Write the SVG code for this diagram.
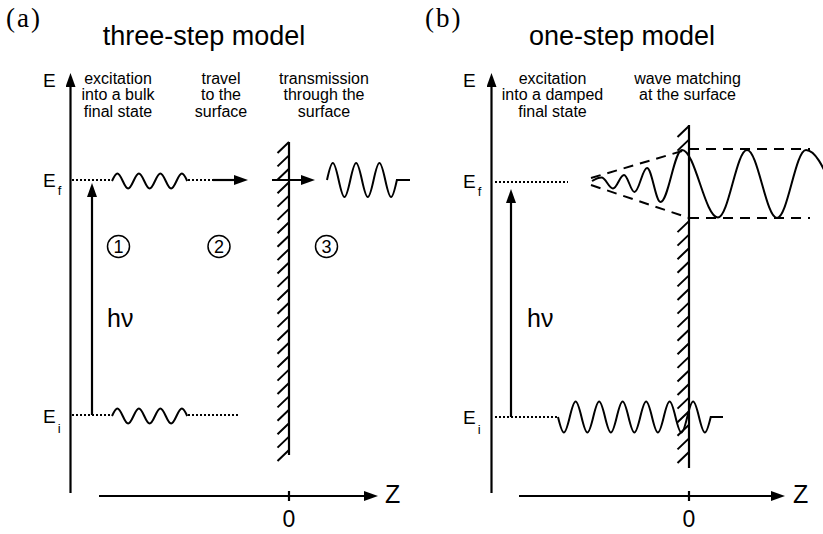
<svg xmlns="http://www.w3.org/2000/svg" width="823" height="534" viewBox="0 0 823 534">
<defs>
<style>
.ax{stroke:#000;stroke-width:2.2;fill:none}
.wave{stroke:#000;stroke-width:2;fill:none}
.dot{stroke:#000;stroke-width:2;stroke-dasharray:2 2;fill:none}
.dash{stroke:#000;stroke-width:2;stroke-dasharray:10 7;fill:none}
.hatch{stroke:#000;stroke-width:2;fill:none}
.circ{stroke:#000;stroke-width:1.5;fill:none}
text{font-family:"Liberation Sans",Arial,sans-serif;fill:#000}
.panel{font-family:"Liberation Serif","Times New Roman",serif;font-size:27px;letter-spacing:2px}
.title{font-size:27px;text-anchor:middle}
.lbl{font-size:16px;text-anchor:middle}
.E{font-size:19px}
.sub{font-size:13px}
.hv{font-size:25px}
.num{font-size:18px;text-anchor:middle}
.zero{font-size:23px;text-anchor:middle}
.Z{font-size:25px}
</style>
<marker id="ah" markerUnits="userSpaceOnUse" markerWidth="14" markerHeight="10" viewBox="0 0 14 10" refX="6" refY="5" orient="auto">
<path d="M0,0 L14,5 L0,10 z" fill="#000"/>
</marker>
<path id="smallwave" d="M112,181 c4.56,-10 6.19,-10 10.75,0 c4.56,10 6.19,10 10.75,0 c4.56,-10 6.19,-10 10.75,0 c4.56,10 6.19,10 10.75,0 c4.56,-10 6.19,-10 10.75,0 c4.56,10 6.19,10 10.75,0 c4.56,-10 6.19,-10 10.75,0"/>
</defs>
<rect width="823" height="534" fill="#fff"/>

<!-- Panel (a) -->
<g id="panel-a-labels">
<text class="panel" x="6" y="27">(a)</text>
<text class="title" x="204" y="45">three-step model</text>
<text class="lbl" x="118" y="84">excitation</text>
<text class="lbl" x="118" y="100.3">into a bulk</text>
<text class="lbl" x="118" y="116.6">final state</text>
<text class="lbl" x="221" y="84">travel</text>
<text class="lbl" x="221" y="100.3">to the</text>
<text class="lbl" x="221" y="116.6">surface</text>
<text class="lbl" x="324" y="84">transmission</text>
<text class="lbl" x="324" y="100.3">through the</text>
<text class="lbl" x="324" y="116.6">surface</text>
<text class="E" x="43" y="87">E</text>
<text class="E" x="43" y="187">E<tspan class="sub" dx="2" dy="8">f</tspan></text>
<text class="E" x="43" y="423">E<tspan class="sub" dx="2" dy="10">i</tspan></text>
<text class="hv" x="107" y="327">hν</text>
</g>

<g id="a-axes">
<line class="ax" x1="70.5" y1="493" x2="70.5" y2="81" marker-end="url(#ah)"/>
<line class="ax" x1="99" y1="496" x2="370" y2="496" marker-end="url(#ah)"/>
<line class="ax" x1="289" y1="491" x2="289" y2="501"/>
<text class="zero" x="289" y="527">0</text>
<text class="Z" x="385" y="503">Z</text>
</g>

<g id="a-surface">
<line class="ax" x1="289" y1="142" x2="289" y2="455"/>
<path class="hatch" d="M277.5,153 L289,142 M277.5,166.4 L289,155.4 M277.5,179.8 L289,168.8 M277.5,193.2 L289,182.2 M277.5,206.6 L289,195.6 M277.5,219.9 L289,208.9 M277.5,233.3 L289,222.3 M277.5,246.7 L289,235.7 M277.5,260.1 L289,249.1 M277.5,273.5 L289,262.5 M277.5,286.9 L289,275.9 M277.5,300.3 L289,289.3 M277.5,313.7 L289,302.7 M277.5,327.1 L289,316.1 M277.5,340.5 L289,329.5 M277.5,353.8 L289,342.8 M277.5,367.2 L289,356.2 M277.5,380.6 L289,369.6 M277.5,394 L289,383 M277.5,407.4 L289,396.4 M277.5,420.8 L289,409.8 M277.5,434.2 L289,423.2 M277.5,447.6 L289,436.6 M277.5,461 L289,450"/>
</g>

<g id="a-excitation">
<line class="ax" x1="92" y1="415" x2="92" y2="191" marker-end="url(#ah)"/>
</g>

<g id="a-final-state">
<path class="dot" d="M72,180 H112 M188,180 H213"/>
<use href="#smallwave" class="wave"/>
<line class="ax" x1="213" y1="180" x2="240" y2="180" marker-end="url(#ah)"/>
<line class="ax" x1="272" y1="180" x2="307" y2="180" marker-end="url(#ah)"/>
<path class="wave" d="M327,180 c4.94,-22.67 6.71,-22.67 11.65,0 c4.94,22.67 6.71,22.67 11.65,0 c4.94,-22.67 6.71,-22.67 11.65,0 c4.94,22.67 6.71,22.67 11.65,0 c4.94,-22.67 6.71,-22.67 11.65,0 c4.94,22.67 6.71,22.67 11.65,0 L410,180"/>
</g>

<g id="a-initial-state">
<path class="dot" d="M72,415 H112 M188,415 H240"/>
<use href="#smallwave" class="wave" transform="translate(0,235)"/>
</g>

<g id="a-steps">
<g id="step1"><circle class="circ" cx="118.5" cy="246.5" r="11"/><text class="num" x="118.5" y="253">1</text></g>
<g id="step2"><circle class="circ" cx="219" cy="246.5" r="11"/><text class="num" x="219" y="253">2</text></g>
<g id="step3"><circle class="circ" cx="326.5" cy="246.5" r="11"/><text class="num" x="326.5" y="253">3</text></g>
</g>

<!-- Panel (b) -->
<g id="panel-b-labels">
<text class="panel" x="425" y="27">(b)</text>
<text class="title" x="622" y="45">one-step model</text>
<text class="lbl" x="552.5" y="84">excitation</text>
<text class="lbl" x="552.5" y="100.3">into a damped</text>
<text class="lbl" x="552.5" y="116.6">final state</text>
<text class="lbl" x="687.5" y="84">wave matching</text>
<text class="lbl" x="687.5" y="100.3">at the surface</text>
<text class="E" x="463" y="87">E</text>
<text class="E" x="463" y="188">E<tspan class="sub" dx="2" dy="8">f</tspan></text>
<text class="E" x="463" y="424">E<tspan class="sub" dx="2" dy="10">i</tspan></text>
<text class="hv" x="527" y="327">hν</text>
</g>

<g id="b-axes">
<line class="ax" x1="491.5" y1="493" x2="491.5" y2="81" marker-end="url(#ah)"/>
<line class="ax" x1="519" y1="496" x2="777" y2="496" marker-end="url(#ah)"/>
<line class="ax" x1="689" y1="491" x2="689" y2="501"/>
<text class="zero" x="689" y="527">0</text>
<text class="Z" x="793" y="503">Z</text>
</g>

<g id="b-surface">
<line class="ax" x1="689" y1="125" x2="689" y2="468"/>
<path class="hatch" d="M677.5,137 L689,126 M677.5,150.6 L689,139.6 M677.5,232.1 L689,221.1 M677.5,245.6 L689,234.6 M677.5,259.2 L689,248.2 M677.5,272.8 L689,261.8 M677.5,286.4 L689,275.4 M677.5,300 L689,289 M677.5,313.6 L689,302.6 M677.5,327.1 L689,316.1 M677.5,340.7 L689,329.7 M677.5,354.3 L689,343.3 M677.5,367.9 L689,356.9 M677.5,381.5 L689,370.5 M677.5,395 L689,384 M677.5,408.6 L689,397.6 M677.5,422.2 L689,411.2 M677.5,435.8 L689,424.8 M677.5,449.4 L689,438.4 M677.5,463 L689,452"/>
</g>

<g id="b-excitation">
<line class="ax" x1="511" y1="417" x2="511" y2="197" marker-end="url(#ah)"/>
</g>

<g id="b-final-state">
<path class="dot" d="M495,182 H568"/>
<path class="dash" d="M591,178 L689,149 M591,185 L689,218 M689,149 H810 M689,218 H810"/>
<path class="wave" d="M592,181 C595.5,179 598,177.5 601.5,177.5 C605.7,177.5 608.8,188.5 613,188.5 C617,188.5 620,175 624,175 C627.8,175 630.7,192 634.5,192 C639,192 642.5,168 647,168 C651.9,168 655.6,202 660.5,202 C668.3,202 674.2,150 682,150 C695.1,150 704.9,217.5 718,217.5 C728.6,217.5 736.4,150 747,150 C757.9,150 766.1,218 777,218 C787.6,218 795.4,150 806,150 C824.2,150 837.8,218 856,218"/>
</g>

<g id="b-initial-state">
<path class="dot" d="M495,417 H558"/>
<path class="wave" d="M558,417 c4.99,20.67 6.76,20.67 11.75,0 c4.99,-20.67 6.76,-20.67 11.75,0 c4.99,20.67 6.76,20.67 11.75,0 c4.99,-20.67 6.76,-20.67 11.75,0 c4.99,20.67 6.76,20.67 11.75,0 c4.99,-20.67 6.76,-20.67 11.75,0 c4.99,20.67 6.76,20.67 11.75,0 c4.99,-20.67 6.76,-20.67 11.75,0 c4.99,20.67 6.76,20.67 11.75,0 c4.99,-20.67 6.76,-20.67 11.75,0 c4.99,20.67 6.76,20.67 11.75,0 c4.99,-20.67 6.76,-20.67 11.75,0 c4.99,20.67 6.76,20.67 11.75,0 L723,417"/>
</g>
</svg>
